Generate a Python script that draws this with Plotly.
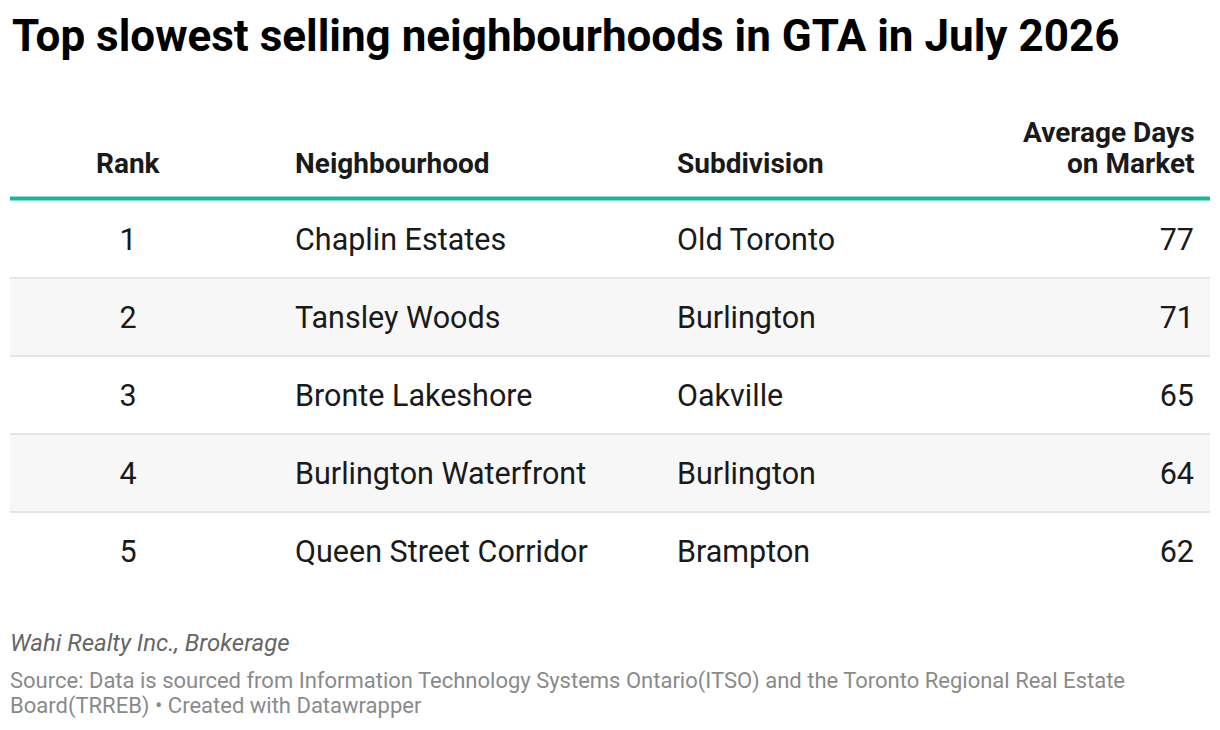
import plotly.graph_objects as go

# ---- data ----
ranks = [1, 2, 3, 4, 5]
neighbourhoods = ["Chaplin Estates", "Tansley Woods", "Bronte Lakeshore",
                  "Burlington Waterfront", "Queen Street Corridor"]
subdivisions = ["Old Toronto", "Burlington", "Oakville", "Burlington", "Brampton"]
avg_days = [77, 71, 65, 64, 62]
headers = [["Rank"], ["Neighbourhood"], ["Subdivision"], ["Average Days", "on Market"]]

title = "Top slowest selling neighbourhoods in GTA in July 2026"
byline = "Wahi Realty Inc., Brokerage"
source_lines = ["Source: Data is sourced from Information Technology Systems Ontario(ITSO) and the Toronto Regional Real Estate",
                "Board(TRREB) • Created with Datawrapper"]

# ---- layout constants ----
W, H = 1220, 730
FONT = "Roboto"
TXT = "#1a1a1a"
TEAL = "#14b99c"
ROWFILL = "#f7f7f7"
BORDER = "#e5e5e5"
ROW_H = 78
TEXT_CENTER = 242   # pixel where row 1 text is centred
ROW1_CENTER = 239   # pixel where row 1 band is centred
SHIFT = (ROW1_CENTER - TEXT_CENTER) / ROW_H
LEFT, RIGHT = 10, 1210
X_RANK, X_NB, X_SUB, X_DAYS = 128, 295, 677, 1194

def py(p):
    return 1 - p / H

y_top = 1 - TEXT_CENTER / ROW_H
y_bot = 1 + (H - TEXT_CENTER) / ROW_H

fig = go.Figure()

body_font = dict(family=FONT, size=30.5, color=TXT)
fig.add_trace(go.Scatter(x=[X_RANK] * len(ranks), y=ranks, mode="text",
                         text=[str(r) for r in ranks], textposition="middle center",
                         textfont=body_font, hoverinfo="skip", showlegend=False))
fig.add_trace(go.Scatter(x=[X_NB] * len(ranks), y=ranks, mode="text",
                         text=neighbourhoods, textposition="middle right",
                         textfont=body_font, hoverinfo="skip", showlegend=False))
fig.add_trace(go.Scatter(x=[X_SUB] * len(ranks), y=ranks, mode="text",
                         text=subdivisions, textposition="middle right",
                         textfont=body_font, hoverinfo="skip", showlegend=False))
fig.add_trace(go.Scatter(x=[X_DAYS] * len(ranks), y=ranks, mode="text",
                         text=[str(v) for v in avg_days], textposition="middle left",
                         textfont=body_font, hoverinfo="skip", showlegend=False))

shapes = []
for r in ranks:
    if r % 2 == 0:
        shapes.append(dict(type="rect", xref="x", yref="y", x0=LEFT, x1=RIGHT,
                           y0=r - 0.5 + SHIFT, y1=r + 0.5 + SHIFT, fillcolor=ROWFILL,
                           line=dict(width=0), layer="below"))
for r in ranks[:-1]:
    shapes.append(dict(type="line", xref="x", yref="y", x0=LEFT, x1=RIGHT,
                       y0=r + 0.5 + SHIFT, y1=r + 0.5 + SHIFT,
                       line=dict(color=BORDER, width=2), layer="below"))
shapes.append(dict(type="line", xref="x", yref="y", x0=LEFT, x1=RIGHT,
                   y0=0.5 + SHIFT - 1.5 / ROW_H, y1=0.5 + SHIFT - 1.5 / ROW_H,
                   line=dict(color=TEAL, width=4)))

annotations = []
annotations.append(dict(text=f"<b>{title}</b>", x=10 / W, y=py(36), xref="paper", yref="paper",
                        xanchor="left", yanchor="middle", showarrow=False,
                        font=dict(family=FONT, size=44, color="#000000")))
hdr_font = dict(family=FONT, size=28, color=TXT)
hdr_pos = [(X_RANK, "center"), (296 - 3, "left"), (678 - 3, "left"), (X_DAYS + 3, "right")]
HDR_LAST_CENTER = 164
HDR_LINE = 31
for lines, (xp, anc) in zip(headers, hdr_pos):
    n = len(lines)
    for i, line in enumerate(lines):
        yc = HDR_LAST_CENTER - (n - 1 - i) * HDR_LINE
        annotations.append(dict(text=f"<b>{line}</b>", x=xp, y=py(yc), xref="x", yref="paper",
                                xanchor=anc, yanchor="middle", showarrow=False,
                                font=hdr_font))
annotations.append(dict(text=f"<i>{byline}</i>", x=8 / W, y=py(643), xref="paper", yref="paper",
                        xanchor="left", yanchor="middle", showarrow=False,
                        font=dict(family=FONT, size=24, color="#666666")))
for i, line in enumerate(source_lines):
    annotations.append(dict(text=line, x=8 / W, y=py(681 + i * 25), xref="paper", yref="paper",
                            xanchor="left", yanchor="middle", showarrow=False,
                            font=dict(family=FONT, size=22, color="#8a8a8a")))

fig.update_layout(
    width=W, height=H, margin=dict(l=0, r=0, t=0, b=0),
    paper_bgcolor="white", plot_bgcolor="white",
    xaxis=dict(range=[0, W], visible=False, fixedrange=True),
    yaxis=dict(range=[y_bot, y_top], visible=False, fixedrange=True),
    shapes=shapes, annotations=annotations,
    font=dict(family=FONT),
)

fig.write_html("out.html", config={"displayModeBar": False},
               post_script="document.body.style.margin='0';document.body.style.overflow='hidden';")
